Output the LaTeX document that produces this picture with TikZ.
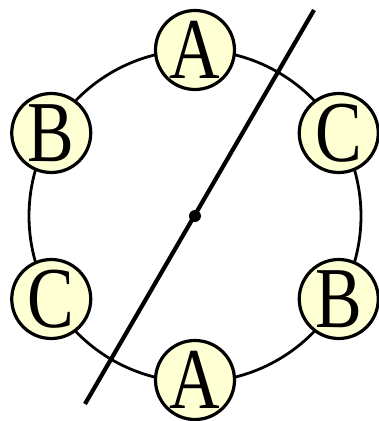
\documentclass[tikz,border=0pt]{standalone}
\usepackage{fontspec}
\setmainfont{Liberation Serif}
\definecolor{cream}{RGB}{255,255,212}

\begin{document}
\begin{tikzpicture}[x=1pt,y=1pt,
  seat/.style={circle,draw,line width=3.2pt,fill=cream,minimum size=79pt,inner sep=0pt,
    font=\fontsize{70}{70}\selectfont}]
\useasboundingbox (-195,-205) rectangle (184,216);
\coordinate (O) at (0,0);
\coordinate (P) at (-110,-188); \coordinate (Q) at (119,206);
\draw[line width=2.8pt] (O) circle (166);
\draw[line width=4.2pt] (P)--(Q);
\fill (O) circle (6);
\node[seat] (A1) at (90:166) {\scalebox{1}[1.24]{A}};
\node[seat] (B1) at (150:166) {\scalebox{1}[1.24]{B}};
\node[seat] (C1) at (30:166) {\scalebox{1}[1.24]{C}};
\node[seat] (C2) at (210:166) {\scalebox{1}[1.24]{C}};
\node[seat] (B2) at (330:166) {\scalebox{1}[1.24]{B}};
\node[seat] (A2) at (270:164) {\scalebox{1}[1.24]{A}};
\end{tikzpicture}
\end{document}
